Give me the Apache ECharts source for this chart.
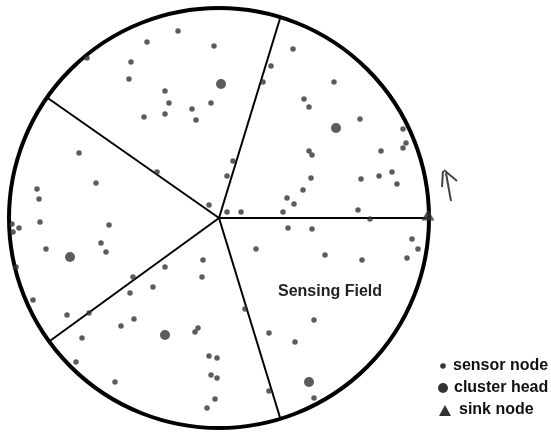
<!DOCTYPE html>
<html><head><meta charset="utf-8">
<script src="https://cdn.jsdelivr.net/npm/echarts@6/dist/echarts.min.js"></script>
<style>html,body{margin:0;padding:0;background:#fff}#c{width:551px;height:436px}</style>
</head><body><div id="c"></div>
<script>
// Sensing field (circle) in pixel-like data units
const fieldCenter = [219, 218];
const fieldRadius = 210;
// sector boundary angles (degrees, counter-clockwise from east)
const sectorAngles = [0, 73, 145, 216, 287];
// sensor nodes
const sensorNodes = [
 [178,31],[147,42],[214,46],[87,58],[131,62],[129,79],[165,91],[169,103],[211,103],[192,109],[144,117],[165,114],[196,120],
 [79,153],[157,172],[96,183],[37,189],[39,199],[209,205],[40,222],[12,224],[19,228],[13,232],[109,225],[46,249],[101,243],[106,252],[16,267],[203,260],[202,277],[165,267],[133,277],
 [153,287],[130,293],[33,300],[67,315],[89,313],[134,319],[121,326],[198,328],[195,332],[82,338],[209,356],[217,358],[76,362],[211,375],[217,378],[115,382],[215,399],[207,408],
 [293,49],[271,66],[263,82],[334,82],[304,99],[309,107],[360,119],[403,129],[406,143],[403,148],[309,151],[312,155],[381,151],[233,161],[227,176],[311,178],[361,179],[379,176],[392,172],[397,184],[303,190],[287,198],[294,204],[227,212],[241,212],[283,212],[358,210],[370,219],
 [288,228],[312,229],[256,249],[325,255],[362,260],[412,239],[418,249],[407,258],[245,309],[314,320],[269,333],[295,342],[269,391],[314,398]
];
// cluster heads
const clusterHeads = [[221,84],[336,128],[70,257],[165,335],[309,382]];
// sink node
const sinkNode = [[428,215]];
// hand-drawn arrow strokes near sink
const arrowStrokes = [
 [[451,201],[446,173]],
 [[442,187],[443,171]],
 [[444,170],[457,181]]
];
const fieldLabel = 'Sensing Field';
const legendItems = ['sensor node', 'cluster head', 'sink node'];

const rad = Math.PI / 180;
const sectorLines = sectorAngles.map(a => ({
  coords: [fieldCenter, [fieldCenter[0] + fieldRadius * Math.cos(a * rad), fieldCenter[1] - fieldRadius * Math.sin(a * rad)]]
}));

const chart = echarts.init(document.getElementById('c'), null, {renderer: 'canvas'});
const font = '"Liberation Sans", Arial, sans-serif';
const dot = '#333';
chart.setOption({
  animation: false,
  backgroundColor: '#fff',
  grid: {left: 0, right: 0, top: 0, bottom: 0},
  xAxis: {type: 'value', min: 0, max: 551, show: false},
  yAxis: {type: 'value', min: 0, max: 436, inverse: true, show: false},
  series: [
    {
      type: 'custom', name: 'field', z: 1,
      data: [[fieldCenter[0], fieldCenter[1], fieldRadius]],
      renderItem: function (params, api) {
        const c = api.coord([api.value(0), api.value(1)]);
        const r = api.size([api.value(2), 0])[0];
        return {type: 'circle', shape: {cx: c[0], cy: c[1], r: r},
          style: {fill: 'rgba(0,0,0,0)', stroke: '#000', lineWidth: 4}};
      }
    },
    {
      type: 'lines', coordinateSystem: 'cartesian2d', z: 2,
      data: sectorLines,
      lineStyle: {color: '#000', width: 2, opacity: 1}
    },
    {
      type: 'lines', coordinateSystem: 'cartesian2d', polyline: true, z: 2,
      data: arrowStrokes.map(s => ({coords: s})),
      lineStyle: {color: '#444', width: 2, opacity: 1}
    },
    {
      type: 'scatter', name: 'sensor node', z: 3,
      data: sensorNodes, symbol: 'circle', symbolSize: 5.5,
      itemStyle: {color: dot}
    },
    {
      type: 'scatter', name: 'cluster head', z: 3,
      data: clusterHeads, symbol: 'circle', symbolSize: 10,
      itemStyle: {color: dot}
    },
    {
      type: 'scatter', name: 'sink node', z: 4,
      data: sinkNode, symbol: 'triangle', symbolSize: [13, 11],
      itemStyle: {color: dot}
    }
  ],
  graphic: [
    {type: 'text', x: 330, y: 292, style: {text: fieldLabel, font: 'bold 16px ' + font, fill: '#222', align: 'center', verticalAlign: 'middle'}},
    {type: 'circle', shape: {cx: 443, cy: 366, r: 2.8}, style: {fill: dot}},
    {type: 'text', x: 453, y: 366, style: {text: legendItems[0], font: 'bold 16px ' + font, fill: '#111', verticalAlign: 'middle'}},
    {type: 'circle', shape: {cx: 443, cy: 388, r: 5}, style: {fill: dot}},
    {type: 'text', x: 454, y: 388, style: {text: legendItems[1], font: 'bold 16px ' + font, fill: '#111', verticalAlign: 'middle'}},
    {type: 'polygon', shape: {points: [[445, 405], [451, 416], [439, 416]]}, style: {fill: dot}},
    {type: 'text', x: 459, y: 410, style: {text: legendItems[2], font: 'bold 16px ' + font, fill: '#111', verticalAlign: 'middle'}}
  ]
});
</script>
</body></html>
